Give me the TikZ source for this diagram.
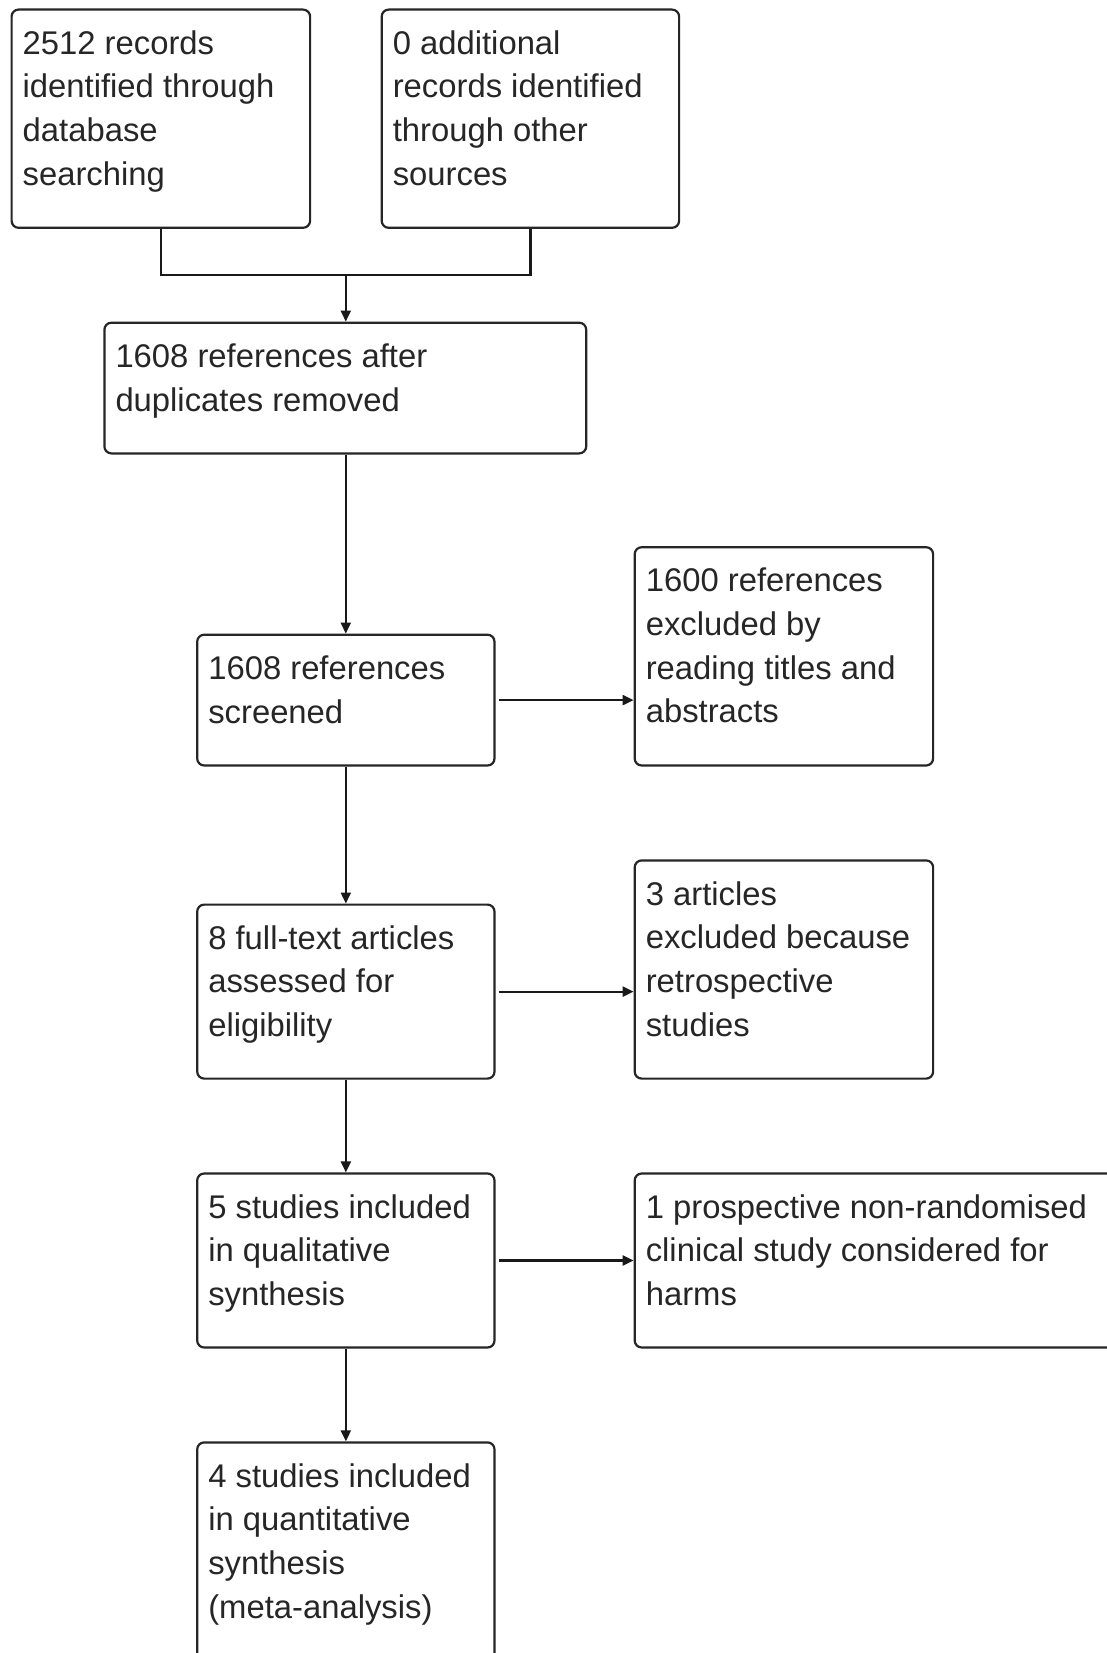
\documentclass[tikz,border=0pt]{standalone}
\usepackage{fontspec}
\setmainfont{Liberation Sans}
\usetikzlibrary{arrows.meta}
\begin{document}
\begin{tikzpicture}[x=1pt,y=-1pt,
  box/.style={draw=black!85, line width=2.2pt, rounded corners=7pt, anchor=north west, inner sep=0pt, fill=white},
  txt/.style={anchor=north west, inner sep=0pt, align=left, font=\fontsize{32.8}{43.7}\selectfont, text=black!85},
  conn/.style={line width=2.2pt, draw=black!90},
  arr/.style={conn, -{Triangle[length=11pt,width=10pt]}}]
\fill[white] (0,0) rectangle (1107,1653);
\clip (0,0) rectangle (1107,1653);
\useasboundingbox (0,0) rectangle (1107,1653);
\def\asc{\vrule width 0pt height 24.5pt\relax}
% boxes
\node[box, minimum width=298.5pt, minimum height=218.2pt] (b1) at (10.5,8.5) {};
\node[box, minimum width=297.4pt, minimum height=218.2pt] (b2) at (380.6,8.5) {};
\node[box, minimum width=481.8pt, minimum height=130.7pt] (b3) at (103.3,321.6) {};
\node[box, minimum width=297.3pt, minimum height=130.8pt] (b4) at (196.1,633.6) {};
\node[box, minimum width=298.4pt, minimum height=218.3pt] (b5) at (633.6,546.1) {};
\node[box, minimum width=297.3pt, minimum height=174pt] (b6) at (196.1,903.5) {};
\node[box, minimum width=298.4pt, minimum height=218.2pt] (b7) at (633.6,859.3) {};
\node[box, minimum width=297.3pt, minimum height=174pt] (b8) at (196.1,1172.4) {};
\node[box, minimum width=520pt, minimum height=174pt] (b9) at (633.6,1172.4) {};
\node[box, minimum width=297.3pt, minimum height=280pt] (b10) at (196.1,1441.3) {};
% texts
\node[txt] (t1) at (22.5,29.5) {\asc 2512 records\\identified through\\database\\searching};
\node[txt] (t2) at (392.6,29.5) {\asc 0 additional\\records identified\\through other\\sources};
\node[txt] (t3) at (115.3,342.6) {\asc 1608 references after\\duplicates removed};
\node[txt] (t4) at (208.1,654.6) {\asc 1608 references\\screened};
\node[txt] (t5) at (645.6,567.1) {\asc 1600 references\\excluded by\\reading titles and\\abstracts};
\node[txt] (t6) at (208.1,924.5) {\asc 8 full-text articles\\assessed for\\eligibility};
\node[txt] (t7) at (645.6,880.3) {\asc 3 articles\\excluded because\\retrospective\\studies};
\node[txt] (t8) at (208.1,1193.4) {\asc 5 studies included\\in qualitative\\synthesis};
\node[txt] (t9) at (645.6,1193.4) {\asc 1 prospective non-randomised\\clinical study considered for\\harms};
\node[txt] (t10) at (208.1,1462.3) {\asc 4 studies included\\in quantitative\\synthesis\\(meta-analysis)};
% connectors
\coordinate (m) at (345.8,275.2);
\draw[conn] (b1.south) |- (m) -| (b2.south);
\draw[arr] (m) -- (m |- b3.north);
\draw[arr] (b3.south -| m) -- (m |- b4.north);
\draw[arr] ([xshift=3pt]b4.east) -- (b4.east -| b5.west);
\draw[arr] (b4.south) -- (b6.north);
\draw[arr] ([xshift=3pt]b6.east) -- (b6.east -| b7.west);
\draw[arr] (b6.south) -- (b8.north);
\draw[arr] ([xshift=3pt]b8.east) -- (b8.east -| b9.west);
\draw[arr] (b8.south) -- (b10.north);
\end{tikzpicture}
\end{document}
